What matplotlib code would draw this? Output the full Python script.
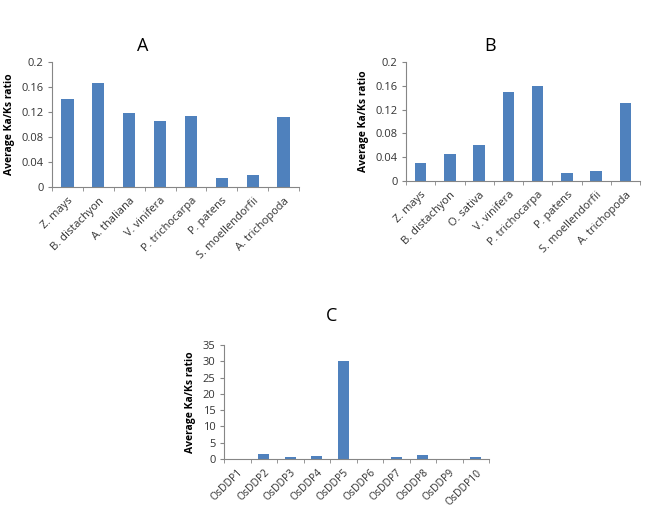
import numpy as np
import matplotlib.pyplot as plt

# Datos
especies_a = ["Z. mays", "B. distachyon", "A. thaliana", "V. vinifera",
              "P. trichocarpa", "P. patens", "S. moellendorfii", "A. trichopoda"]
valores_a = [0.141, 0.167, 0.119, 0.105, 0.114, 0.015, 0.020, 0.112]

especies_b = ["Z. mays", "B. distachyon", "O. sativa", "V. vinifera",
              "P. trichocarpa", "P. patens", "S. moellendorfii", "A. trichopoda"]
valores_b = [0.030, 0.046, 0.061, 0.149, 0.160, 0.0135, 0.0175, 0.131]

genes_c = ["OsDDP1", "OsDDP2", "OsDDP3", "OsDDP4", "OsDDP5",
           "OsDDP6", "OsDDP7", "OsDDP8", "OsDDP9", "OsDDP10"]
valores_c = [0, 1.6, 0.5, 0.9, 30.0, 0, 0.5, 1.2, 0, 0.5]

yticks_ab = [0, 0.04, 0.08, 0.12, 0.16, 0.2]
ytick_labels_ab = ["0", "0.04", "0.08", "0.12", "0.16", "0.2"]
yticks_c = [0, 5, 10, 15, 20, 25, 30, 35]

COLOR = "#4F81BD"
GRIS = "#868686"
ANCHO, ALTO = 650, 508

plt.rcParams['font.family'] = ['Open Sans', 'DejaVu Sans']


def panel(caja, nombres, valores, yticks, yticklabels, ymax, titulo, titulo_xy, tam_x):
    x0, y0, x1, y1 = caja
    ax = fig.add_axes([x0 / ANCHO, 1 - y1 / ALTO, (x1 - x0) / ANCHO, (y1 - y0) / ALTO])
    pos = np.arange(len(nombres))
    ax.bar(pos, valores, width=0.4, color=COLOR)
    ax.set_xlim(-0.5, len(nombres) - 0.5)
    ax.set_ylim(0, ymax)
    ax.set_yticks(yticks)
    ax.set_yticklabels(yticklabels, fontsize=8, color="#333333")
    ax.set_xticks(pos)
    ax.set_xticklabels(nombres, rotation=45, ha="right", rotation_mode="anchor",
                       fontsize=tam_x, color="#333333")
    ax.set_xticks(np.arange(len(nombres) + 1) - 0.5, minor=True)
    ax.tick_params(axis="x", which="major", length=0, pad=6)
    ax.tick_params(axis="x", which="minor", length=3, color=GRIS)
    ax.tick_params(axis="y", length=3, color=GRIS, pad=3)
    for lado in ["top", "right"]:
        ax.spines[lado].set_visible(False)
    for lado in ["left", "bottom"]:
        ax.spines[lado].set_color(GRIS)
        ax.spines[lado].set_linewidth(0.8)
    ax.set_ylabel("Average Ka/Ks ratio", fontsize=7.5, fontweight="bold", labelpad=5)
    fig.text(titulo_xy[0] / ANCHO, 1 - titulo_xy[1] / ALTO, titulo,
             fontsize=13, ha="center", va="center")
    return ax


fig = plt.figure(figsize=(6.5, 5.08), dpi=100)

panel((52, 62, 299, 187), especies_a, valores_a, yticks_ab, ytick_labels_ab, 0.2, "A", (143, 46), 8)
panel((406, 62, 640, 181), especies_b, valores_b, yticks_ab, ytick_labels_ab, 0.2, "B", (490, 46), 8)
panel((224, 345, 489, 459), genes_c, valores_c, yticks_c, [str(v) for v in yticks_c], 35, "C", (332, 316), 7.5)

fig.savefig("out.png", dpi=100)
